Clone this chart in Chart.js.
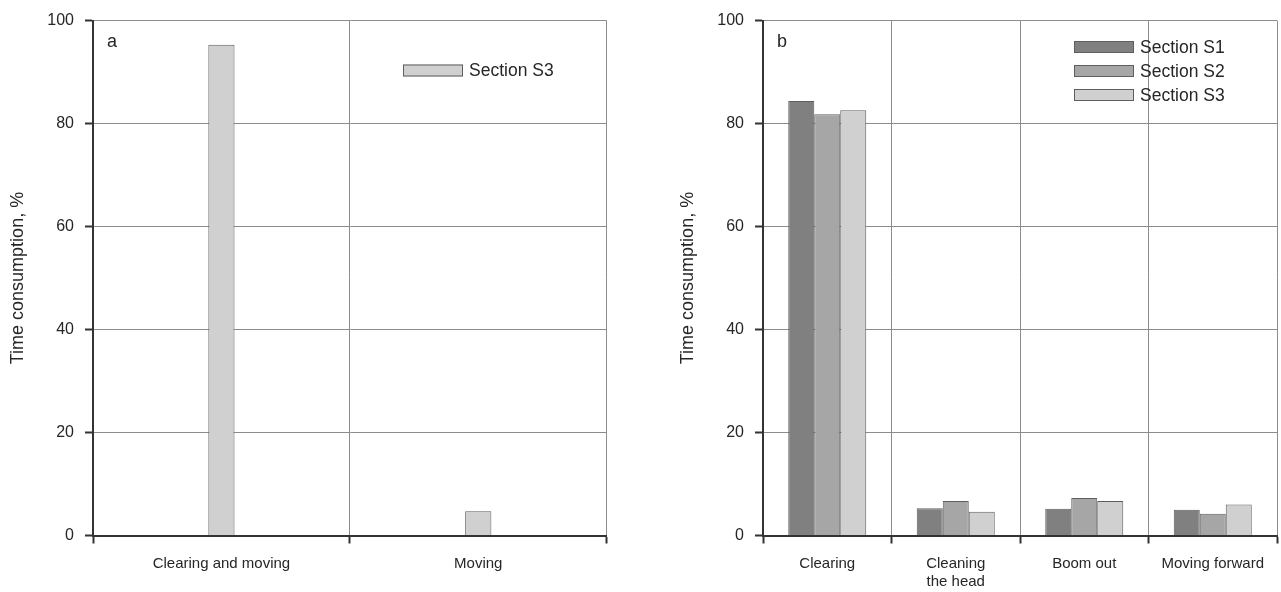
<!DOCTYPE html>
<html>
<head>
<meta charset="utf-8">
<script src="https://cdn.jsdelivr.net/npm/chart.js@4/dist/chart.umd.min.js"></script>
<style>
  html, body { margin: 0; padding: 0; background: #ffffff; }
  #wrap { position: relative; width: 1281px; height: 592px; overflow: hidden; }
  canvas { position: absolute; top: 0; }
  #chartA { left: 0; }
  #chartB { left: 670px; }
</style>
</head>
<body>
<div id="wrap">
  <canvas id="chartA" width="640" height="592"></canvas>
  <canvas id="chartB" width="611" height="592"></canvas>
</div>
<script>
// Panel a: one working operation split into two categories
const panelACategories = ['Clearing and moving', 'Moving'];
const panelAS3 = [95.3, 4.7];

// Panel b: four operations, three sections
const panelBCategories = ['Clearing', ['Cleaning', 'the head'], 'Boom out', 'Moving forward'];
const panelBS1 = [84.4, 5.3, 5.2, 5.0];
const panelBS2 = [81.8, 6.7, 7.3, 4.2];
const panelBS3 = [82.6, 4.6, 6.7, 6.0];

const seriesNames = ['Section S1', 'Section S2', 'Section S3'];
const yMin = 0, yMax = 100, yStep = 20;
const yTitle = 'Time consumption, %';

const FONT = "'Liberation Sans Narrow', 'Arial Narrow', 'Liberation Sans', Arial, sans-serif";
const TEXT = '#262626';
const GRID = '#8c8c8c';
const AXIS = '#333333';
const FILLS = { 'Section S1': '#808080', 'Section S2': '#a6a6a6', 'Section S3': '#d0d0d0' };
const EDGE = '#5e5e5e';

// Panel letter in the top-left corner of the plot area
const panelLetter = {
  id: 'panelLetter',
  afterDraw(chart, args, opts) {
    const { ctx, chartArea } = chart;
    ctx.save();
    ctx.font = '18px ' + FONT;
    ctx.fillStyle = TEXT;
    ctx.textBaseline = 'middle';
    ctx.textAlign = 'left';
    ctx.fillText(opts.text, chartArea.left + opts.dx, chartArea.top + opts.dy);
    ctx.restore();
  }
};

// Legend with long flat swatches, stacked inside the plot area
const swatchLegend = {
  id: 'swatchLegend',
  afterDraw(chart, args, opts) {
    const { ctx } = chart;
    ctx.save();
    ctx.font = '17.5px ' + FONT;
    ctx.textBaseline = 'middle';
    ctx.textAlign = 'left';
    chart.data.datasets.forEach((ds, i) => {
      const cy = opts.y + i * opts.rowGap;
      ctx.fillStyle = ds.backgroundColor;
      ctx.fillRect(opts.x, cy - 6, 60, 12);
      ctx.strokeStyle = EDGE;
      ctx.lineWidth = 1;
      ctx.strokeRect(opts.x + 0.5, cy - 5.5, 59, 11);
      ctx.fillStyle = TEXT;
      ctx.fillText(ds.label, opts.x + 66, cy + 1);
    });
    ctx.restore();
  }
};

function makeOptions(letter, legendPos, padRight, catPct) {
  return {
    responsive: false,
    animation: false,
    layout: { padding: { left: 0, right: padRight, top: 19, bottom: 0 } },
    plugins: {
      legend: { display: false },
      tooltip: { enabled: false },
      panelLetter: { text: letter, dx: 14, dy: 21 },
      swatchLegend: legendPos
    },
    datasets: {
      bar: { categoryPercentage: catPct, barPercentage: 1.0, borderWidth: 1, borderColor: EDGE }
    },
    scales: {
      x: {
        offset: true,
        grid: { offset: true, color: GRID, lineWidth: 1, drawTicks: true, tickLength: 8, tickColor: AXIS, tickWidth: 2 },
        border: { display: true, color: AXIS, width: 2 },
        ticks: { color: TEXT, font: { family: FONT, size: 15, lineHeight: 1.15 }, padding: 12, maxRotation: 0, autoSkip: false },
        afterFit(scale) { scale.height = 56.5; }
      },
      y: {
        min: yMin, max: yMax,
        grid: { color: GRID, lineWidth: 1, drawTicks: true, tickLength: 8, tickColor: AXIS, tickWidth: 2 },
        border: { display: true, color: AXIS, width: 2 },
        ticks: { stepSize: yStep, color: TEXT, font: { family: FONT, size: 16 }, padding: 11 },
        title: { display: true, text: yTitle, color: TEXT, font: { family: FONT, size: 18 }, padding: { top: 7, bottom: 0 } },
        afterFit(scale) { scale.width = 93; }
      }
    }
  };
}

new Chart(document.getElementById('chartA'), {
  type: 'bar',
  data: {
    labels: panelACategories,
    datasets: [
      { label: seriesNames[2], data: panelAS3, backgroundColor: FILLS[seriesNames[2]] }
    ]
  },
  options: makeOptions('a', { x: 403, y: 70.5, rowGap: 24 }, 33.3, 0.102),
  plugins: [panelLetter, swatchLegend]
});

new Chart(document.getElementById('chartB'), {
  type: 'bar',
  data: {
    labels: panelBCategories,
    datasets: [
      { label: seriesNames[0], data: panelBS1, backgroundColor: FILLS[seriesNames[0]] },
      { label: seriesNames[1], data: panelBS2, backgroundColor: FILLS[seriesNames[1]] },
      { label: seriesNames[2], data: panelBS3, backgroundColor: FILLS[seriesNames[2]] }
    ]
  },
  options: makeOptions('b', { x: 404, y: 47, rowGap: 24 }, 4, 0.607),
  plugins: [panelLetter, swatchLegend]
});
</script>
</body>
</html>
